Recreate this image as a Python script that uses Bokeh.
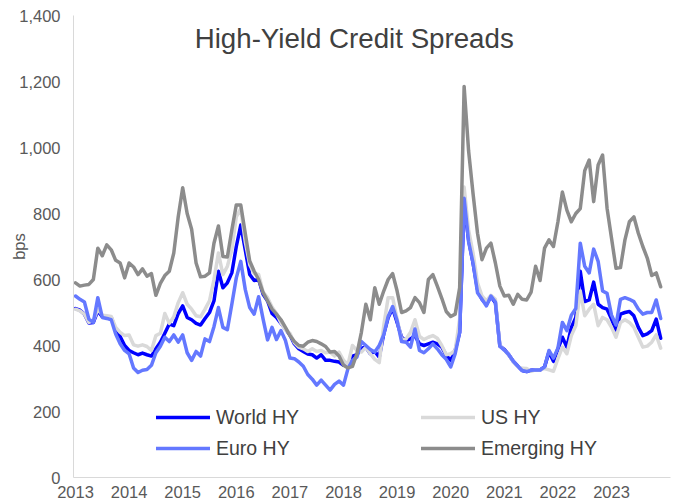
from bokeh.plotting import figure
from bokeh.models import Range1d, FixedTicker, NumeralTickFormatter, Legend, Label
from bokeh.embed import file_html
from bokeh.resources import INLINE

# ---- data (monthly, Jan 2013 .. Dec 2023), spreads in bps ----
year_ticks = [2013, 2014, 2015, 2016, 2017, 2018, 2019, 2020, 2021, 2022, 2023]
y_ticks = [0, 200, 400, 600, 800, 1000, 1200, 1400]

world_hy = [
    512, 507, 495, 468, 470, 505, 487, 487, 485, 447, 427, 400,
    385, 378, 372, 377, 372, 368, 390, 410, 437, 465, 460, 497,
    520, 485, 478, 467, 462, 482, 500, 535, 625, 575, 590, 620,
    700, 765, 690, 615, 597, 600, 555, 535, 497, 485, 467, 450,
    432, 405, 390, 382, 374, 372, 362, 372, 355, 355, 352, 350,
    340, 340, 368, 372, 392, 395, 375, 382, 365, 435, 485, 512,
    470, 425, 415, 420, 430, 405, 400, 405, 410, 405, 395, 370,
    355, 385, 440, 830, 720, 650, 570, 540, 525, 548, 530, 398,
    388, 372, 352, 338, 324, 321, 325, 326, 326, 335, 380, 352,
    390, 425, 395, 455, 485, 625, 533, 538, 592, 525, 515, 510,
    480, 447, 495, 500, 503, 490, 455, 430, 435, 445, 480, 422,
]

us_hy = [
    510, 505, 495, 470, 475, 510, 492, 490, 488, 455, 440, 430,
    432, 402, 398, 402, 397, 385, 430, 437, 497, 467, 487, 530,
    560, 525, 510, 490, 487, 510, 535, 600, 680, 615, 640, 690,
    790, 815, 715, 645, 618, 615, 562, 545, 517, 497, 468, 448,
    437, 408, 395, 390, 382, 390, 382, 385, 378, 380, 368, 380,
    355, 342, 400, 385, 380, 395, 375, 358, 348, 460, 545, 545,
    480, 418, 420, 440, 478, 428, 418, 425, 430, 422, 400, 372,
    375, 385, 480, 880, 750, 680, 590, 550, 535, 552, 540, 400,
    386, 371, 351, 336, 331, 330, 322, 326, 326, 330, 326, 322,
    360, 395, 375, 430, 460, 565, 490, 510, 525, 460, 485, 478,
    455, 425, 470, 478, 470, 455, 425, 395, 398, 410, 432, 392,
]

euro_hy = [
    550, 540, 532, 480, 470, 545, 485, 482, 478, 435, 405, 385,
    375, 332, 318, 325, 327, 340, 378, 398, 425, 412, 432, 410,
    432, 378, 355, 382, 368, 420, 412, 457, 515, 455, 448, 525,
    605, 655, 570, 515, 495, 548, 480, 417, 455, 418, 445, 415,
    362, 360, 350, 337, 312, 298, 280, 295, 280, 265, 282, 292,
    280, 330, 355, 365, 412, 400, 388, 380, 400, 432, 488, 518,
    475, 412, 410, 395, 450, 385, 378, 390, 405, 390, 372, 358,
    335, 375, 440, 846, 715, 650, 560, 540, 520, 550, 532, 398,
    386, 372, 352, 338, 324, 321, 325, 326, 326, 335, 385, 362,
    392, 470, 445, 492, 512, 710, 640, 620, 692, 655, 565, 558,
    492, 462, 540, 545, 540, 533, 510, 495, 500, 500, 538, 482,
]

emerging_hy = [
    590, 580, 583, 585, 600, 695, 672, 705, 690, 658, 650, 605,
    650, 638, 615, 632, 610, 618, 552, 588, 612, 625, 680, 790,
    878, 800, 752, 650, 608, 610, 620, 710, 762, 670, 668, 750,
    826, 826, 740, 656, 625, 600, 560, 535, 510, 495, 478, 455,
    430, 412, 400, 398, 410, 415, 412, 405, 397, 380, 382, 368,
    340, 332, 337, 375, 440, 525, 478, 575, 525, 565, 600, 618,
    565, 500, 505, 515, 545, 530, 500, 600, 615, 580, 543, 503,
    488, 495, 575, 1185, 990, 860, 740, 660, 695, 710, 650, 580,
    550, 552, 525, 555, 540, 538, 562, 640, 597, 695, 720, 700,
    775, 865, 810, 775, 800, 815, 930, 962, 836, 947, 977, 816,
    725, 634, 636, 720, 775, 790, 740, 700, 665, 612, 620, 578,
]

months = [2013 + i / 12 for i in range(len(world_hy))]

FONT = "Liberation Sans"

p = figure(
    width=675, height=503, output_backend="svg", toolbar_location=None,
    x_range=Range1d(2012.963, 2024.1), y_range=Range1d(0, 1400),
    min_border_left=73, min_border_right=5, min_border_top=15, min_border_bottom=26,
)
p.outline_line_color = None
p.xgrid.grid_line_color = None
p.ygrid.grid_line_color = None
p.background_fill_color = "white"
p.border_fill_color = "white"

# axes
p.xaxis.ticker = FixedTicker(ticks=year_ticks)
p.xaxis.formatter = NumeralTickFormatter(format="0")
p.yaxis.ticker = FixedTicker(ticks=y_ticks)
p.yaxis.formatter = NumeralTickFormatter(format="0,0")
for ax in (p.xaxis[0], p.yaxis[0]):
    ax.axis_line_color = "#d9d9d9"
    ax.axis_line_width = 1
    ax.major_tick_line_color = None
    ax.minor_tick_line_color = None
    ax.major_tick_in = 0
    ax.major_tick_out = 0
    ax.minor_tick_in = 0
    ax.minor_tick_out = 0
    ax.major_label_text_font = FONT
    ax.major_label_text_font_size = "16.5px"
    ax.major_label_text_color = "#595959"
p.xaxis.major_label_standoff = 8
p.yaxis.major_label_standoff = 13
p.yaxis.axis_label = "bps"
p.yaxis.axis_label_text_font = FONT
p.yaxis.axis_label_text_font_size = "16.5px"
p.yaxis.axis_label_text_font_style = "normal"
p.yaxis.axis_label_text_color = "#595959"
p.yaxis.axis_label_standoff = -12

LW = 3.5
r_world = p.line(months, world_hy, line_color="#0000ff", line_width=LW, line_join="round", line_cap="round")
r_us = p.line(months, us_hy, line_color="#d9d9d9", line_width=LW, line_join="round", line_cap="round")
r_euro = p.line(months, euro_hy, line_color="#6478ff", line_width=LW, line_join="round", line_cap="round")
r_em = p.line(months, emerging_hy, line_color="#8c8c8c", line_width=LW, line_join="round", line_cap="round")

def make_legend(items, loc):
    lg = Legend(items=items, location=loc, orientation="vertical")
    lg.glyph_width = 54
    lg.glyph_height = 24
    lg.label_height = 24
    lg.label_standoff = 6
    lg.spacing = 7
    lg.padding = 0
    lg.margin = 0
    lg.border_line_color = None
    lg.background_fill_alpha = 0
    lg.label_text_font = FONT
    lg.label_text_font_size = "19.5px"
    lg.label_text_color = "#404040"
    return lg

p.add_layout(make_legend([("World HY", [r_world]), ("Euro HY", [r_euro])], (83, 17)))
p.add_layout(make_legend([("US HY", [r_us]), ("Emerging HY", [r_em])], (348, 17)))

title = Label(x=2018.2, y=1331, text="High-Yield Credit Spreads",
              text_font=FONT, text_font_size="27.7px", text_color="#404040",
              text_align="center", text_baseline="alphabetic")
p.add_layout(title)

open("out.html", "w").write(file_html(p, INLINE))
